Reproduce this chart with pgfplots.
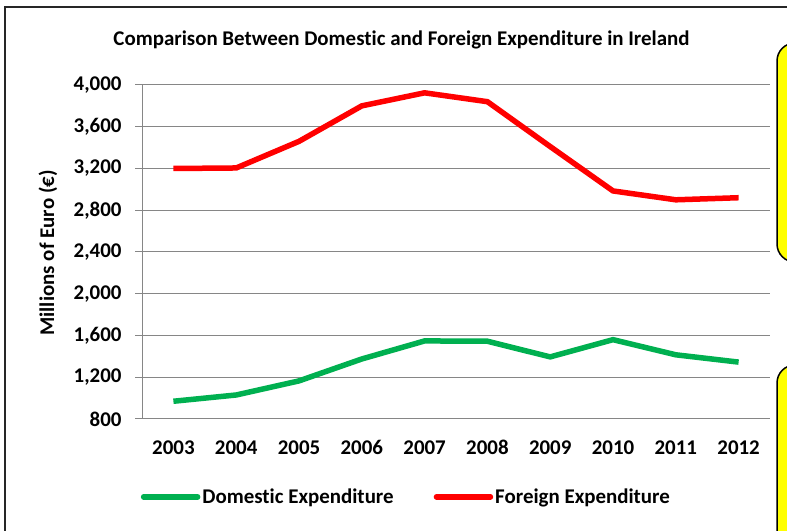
\documentclass[border=0pt]{standalone}
\usepackage{pgfplots}
\pgfplotsset{compat=1.18}
\usepackage{fontspec}
\setmainfont{Carlito}[Ligatures={NoCommon,NoRare}]
\definecolor{xgreen}{RGB}{0,176,80}
\definecolor{xred}{RGB}{255,0,0}
\definecolor{xgrid}{RGB}{134,134,134}
\definecolor{xyellow}{RGB}{255,255,0}
\newcommand{\cf}{\bfseries\fontsize{21}{25}\selectfont}
\begin{document}
\begin{tikzpicture}[x=1bp,y=1bp]
\path[use as bounding box] (0,0) rectangle (787,531);
\fill[white] (0,0) rectangle (787,531);
\draw[line width=2bp, black!85] (5,-20) -- (5,524) -- (820,524);
\draw[line width=1.5bp, black, fill=xyellow, rounded corners=18bp] (777,269) rectangle (860,488);
\draw[line width=1.5bp, black, fill=xyellow, rounded corners=18bp] (777,-40) rectangle (860,166);
\node[font=\cf, anchor=base] at (401.5,485.3) {Comparison Between Domestic and Foreign Expenditure in Ireland};
\node[font=\cf, anchor=base, rotate=90] at (54,278) {Millions of Euro (€)};
\begin{axis}[
  at={(142bp,112bp)}, anchor=south west,
  scale only axis, width=628bp, height=334bp,
  xmin=-0.5, xmax=9.5, ymin=800, ymax=4000,
  axis x line*=bottom, axis y line*=left,
  axis line style={xgrid, line width=1bp},
  xtick={0,...,9},
  xticklabels={2003,2004,2005,2006,2007,2008,2009,2010,2011,2012},
  minor xtick={-0.5,0.5,...,9.5},
  xtick style={draw=none},
  minor tick length=7bp,
  major tick length=7bp,
  tick align=outside,
  tick style={xgrid, line width=1bp},
  minor tick style={xgrid, line width=1bp},
  ytick={800,1200,...,4000},
  ymajorgrids, grid style={xgrid, line width=1bp},
  /pgf/number format/.cd, 1000 sep={,}, assume math mode=true,
  /pgfplots/.cd,
  tick label style={font=\cf},
  yticklabel style={xshift=-10bp},
  xticklabel style={anchor=base, yshift=-29bp},
  legend columns=2,
  legend style={draw=none, fill=none, at={(0.421,-0.233)}, anchor=center,
    font=\cf, inner sep=0pt, outer sep=0pt,
    /tikz/every even column/.append style={column sep=38bp}},
  legend image code/.code={\draw[#1, line cap=round] (0bp,0bp) -- (54bp,0bp);},
  legend cell align=left,
]
\addplot[xgreen, line width=5.5bp] coordinates {(0,970) (1,1030) (2,1165) (3,1375) (4,1548) (5,1545) (6,1395) (7,1560) (8,1415) (9,1345)};
\addlegendentry{Domestic Expenditure}
\addplot[xred, line width=5.5bp] coordinates {(0,3200) (1,3205) (2,3460) (3,3800) (4,3925) (5,3840) (6,3410) (7,2985) (8,2900) (9,2920)};
\addlegendentry{Foreign Expenditure}
\end{axis}
\end{tikzpicture}
\end{document}
